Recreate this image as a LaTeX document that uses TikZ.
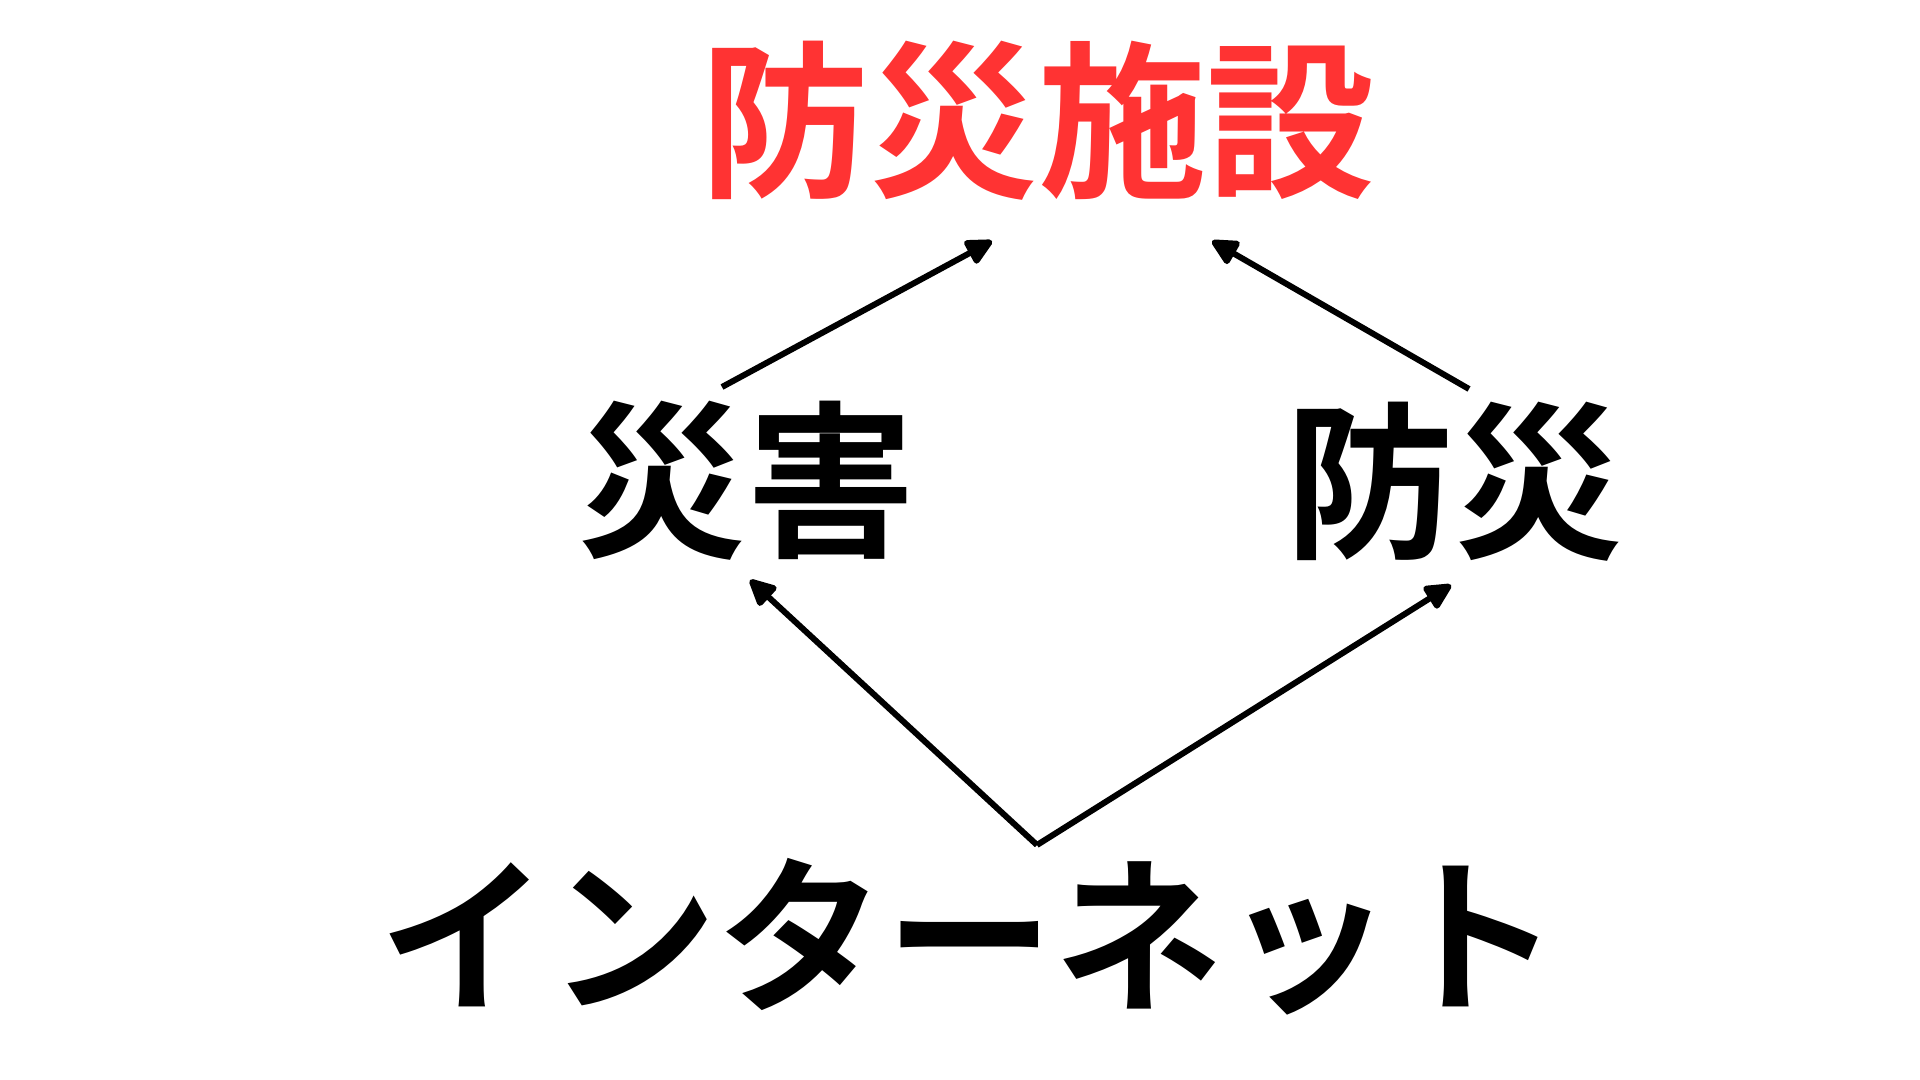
\documentclass[tikz,border=0pt]{standalone}
\usepackage{fontspec}
\newfontfamily\jpfont{Noto Sans CJK JP}[BoldFont={* Bold}]
\usetikzlibrary{positioning, arrows.meta}
\definecolor{bousaired}{HTML}{FF3333}

\begin{document}
\begin{tikzpicture}[x=1cm, y=-1cm, >={Triangle[length=0.3cm, width=0.28cm, round]}]
	\useasboundingbox (0,0) rectangle (19.2,10.8);
	\tikzset{word/.style={font=\jpfont\bfseries\fontsize{48}{50}\selectfont, inner sep=0pt}}
	
	% Define nodes
	\node [word, text=bousaired] (facility) at (10.38,1.21) {防災施設};
	\node [word] (disaster) at (7.46,4.81) {災害};
	\node [word] (prevention) at (14.54,4.82) {防災};
	\node [word] (internet) at (9.70,9.37) {インターネット};
	
	% Free ends of the arrows
	\coordinate (net) at (10.37,8.45);
	\coordinate (dbot) at (7.50,5.80);
	\coordinate (pbot) at (14.51,5.85);
	\coordinate (dtop) at (7.22,3.87);
	\coordinate (ptop) at (14.69,3.89);
	\coordinate (fleft) at (9.92,2.41);
	\coordinate (fright) at (12.12,2.41);
	
	% Arrows
	\draw[->, line width=0.06cm] (net) -- (dbot);
	\draw[->, line width=0.06cm] (net) -- (pbot);
	\draw[->, line width=0.06cm] (dtop) -- (fleft);
	\draw[->, line width=0.06cm] (ptop) -- (fright);
\end{tikzpicture}
\end{document}
